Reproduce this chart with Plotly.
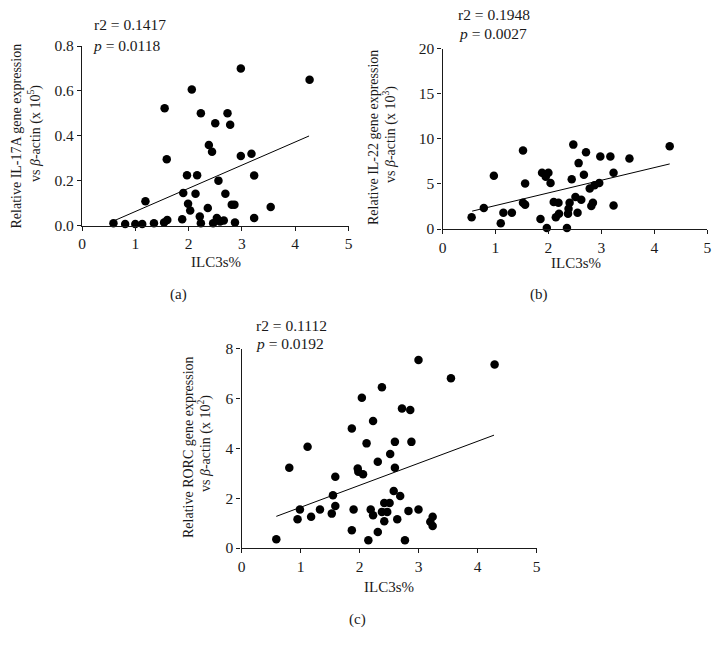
import plotly.graph_objects as go

W, H = 721, 652

# ---------------- data ----------------
# Panel (a): IL-17A
a_x = [0.59, 0.81, 1.00, 1.13, 1.19, 1.35, 1.55, 1.59, 1.54, 1.60, 1.88, 1.90, 1.97, 1.99,
       2.03, 2.06, 2.13, 2.16, 2.21, 2.23, 2.23, 2.36, 2.38, 2.44, 2.46, 2.50, 2.53, 2.56,
       2.59, 2.66, 2.69, 2.73, 2.78, 2.81, 2.86, 2.87, 2.98, 2.98, 3.18, 3.23, 3.23, 3.54, 4.27]
a_y = [0.010, 0.007, 0.007, 0.007, 0.108, 0.010, 0.523, 0.295, 0.013, 0.025, 0.028, 0.145,
       0.224, 0.097, 0.067, 0.606, 0.142, 0.224, 0.040, 0.010, 0.500, 0.078, 0.359, 0.329,
       0.010, 0.456, 0.033, 0.200, 0.018, 0.022, 0.142, 0.500, 0.449, 0.093, 0.093, 0.013,
       0.700, 0.310, 0.320, 0.223, 0.033, 0.082, 0.650]
a_fit_x = [0.60, 4.26]
a_fit_y = [0.021, 0.399]
a_stats = ["r2 = 0.1417", "<i>p</i> = 0.0118"]
a_ytitle = ["Relative IL-17A gene expression", "vs <i>β</i>-actin (x 10<sup>5</sup>)"]

# Panel (b): IL-22
b_x = [0.55, 0.78, 0.97, 1.10, 1.15, 1.31, 1.52, 1.52, 1.56, 1.56, 1.85, 1.88, 1.94, 1.95,
       1.97, 2.00, 2.04, 2.10, 2.14, 2.19, 2.20, 2.35, 2.37, 2.38, 2.40, 2.44, 2.47, 2.51,
       2.55, 2.57, 2.62, 2.67, 2.71, 2.78, 2.81, 2.84, 2.87, 2.96, 2.98, 3.17, 3.23, 3.23,
       3.53, 4.29]
b_y = [1.31, 2.32, 5.90, 0.64, 1.80, 1.80, 8.70, 2.90, 2.70, 5.05, 1.12, 6.24, 6.00, 5.80,
       0.11, 6.24, 5.10, 3.00, 1.31, 2.90, 1.70, 0.11, 1.70, 2.24, 2.90, 5.50, 9.35, 3.55,
       1.80, 7.30, 3.25, 6.00, 8.50, 4.50, 2.55, 2.90, 4.86, 5.10, 8.04, 8.04, 6.24, 2.60,
       7.80, 9.16]
b_fit_x = [0.56, 4.29]
b_fit_y = [1.98, 7.21]
b_stats = ["r2 = 0.1948", "<i>p</i> = 0.0027"]
b_ytitle = ["Relative IL-22 gene expression", "vs <i>β</i>-actin (x 10<sup>3</sup>)"]

# Panel (c): RORC
c_x = [0.59, 0.81, 0.95, 0.99, 1.12, 1.18, 1.33, 1.53, 1.55, 1.59, 1.59, 1.87, 1.87, 1.90,
       1.97, 1.98, 2.04, 2.06, 2.12, 2.15, 2.19, 2.23, 2.23, 2.31, 2.31, 2.38, 2.38, 2.42,
       2.42, 2.47, 2.51, 2.52, 2.58, 2.60, 2.60, 2.64, 2.69, 2.72, 2.77, 2.83, 2.86, 2.88,
       3.00, 3.00, 3.20, 3.24, 3.24, 3.55, 4.29]
c_y = [0.35, 3.22, 1.15, 1.55, 4.06, 1.25, 1.55, 1.38, 2.12, 2.86, 1.69, 4.80, 0.71, 1.55,
       3.19, 3.06, 6.03, 2.96, 4.20, 0.31, 1.55, 5.10, 1.31, 0.64, 3.46, 1.45, 6.45, 1.81,
       1.07, 1.45, 1.81, 3.77, 2.29, 4.26, 3.22, 1.15, 2.09, 5.60, 0.31, 1.49, 5.54, 4.26,
       1.55, 7.55, 1.05, 1.25, 0.88, 6.81, 7.37]
c_fit_x = [0.59, 4.28]
c_fit_y = [1.27, 4.53]
c_stats = ["r2 = 0.1112", "<i>p</i> = 0.0192"]
c_ytitle = ["Relative RORC gene expression", "vs <i>β</i>-actin (x 10<sup>2</sup>)"]

x_ticks = [0, 1, 2, 3, 4, 5]
x_title = "ILC3s%"
labels = ["(a)", "(b)", "(c)"]

# ---------------- layout helpers ----------------
FONT = "Liberation Serif"
INK = "#1a1a1a"

def fx(p):
    return p / W

def fy(p):
    return 1 - p / H

panels = [
    dict(x=a_x, y=a_y, fitx=a_fit_x, fity=a_fit_y, stats=a_stats, yt=a_ytitle,
         xpx=(82, 348.5), ypx=(46, 225.5), yr=[0, 0.8], dt=0.2, fmt=".1f",
         stat_pos=[(91.5, 24), (91, 45)], yt_pos=[(15.5, 136), (34, 134)],
         xt_pos=(216, 262), lab_pos=(178.5, 294), lab=labels[0]),
    dict(x=b_x, y=b_y, fitx=b_fit_x, fity=b_fit_y, stats=b_stats, yt=b_ytitle,
         xpx=(442.5, 707.3), ypx=(48.5, 229), yr=[0, 20], dt=5, fmt="d",
         stat_pos=[(456, 15), (457, 33.5)], yt_pos=[(373, 138), (389, 135)],
         xt_pos=(576, 263), lab_pos=(538.5, 294), lab=labels[1]),
    dict(x=c_x, y=c_y, fitx=c_fit_x, fity=c_fit_y, stats=c_stats, yt=c_ytitle,
         xpx=(241.5, 536.5), ypx=(348.7, 548), yr=[0, 8], dt=2, fmt="d",
         stat_pos=[(254, 325), (254, 343)], yt_pos=[(188, 447), (205, 444)],
         xt_pos=(389, 587), lab_pos=(357, 619.5), lab=labels[2]),
]

fig = go.Figure()
annotations = []

for i, p in enumerate(panels, start=1):
    sfx = "" if i == 1 else str(i)
    xa, ya = "x" + sfx, "y" + sfx
    fig.add_trace(go.Scatter(
        x=p["x"], y=p["y"], mode="markers", xaxis=xa, yaxis=ya,
        marker=dict(color="black", size=8.5, line=dict(width=0)),
        cliponaxis=False, showlegend=False, hoverinfo="x+y"))
    fig.add_trace(go.Scatter(
        x=p["fitx"], y=p["fity"], mode="lines", xaxis=xa, yaxis=ya,
        line=dict(color="black", width=1), showlegend=False, hoverinfo="skip"))

    axis_common = dict(showline=True, linecolor=INK, linewidth=1.2, ticks="outside",
                       ticklen=4, tickcolor=INK, tickwidth=1.2, showgrid=False,
                       zeroline=False, automargin=False,
                       tickfont=dict(family=FONT, size=15.5, color=INK))
    fig.update_layout(**{
        "xaxis" + sfx: dict(axis_common, domain=[fx(p["xpx"][0]), fx(p["xpx"][1])],
                            range=[0, 5], tickvals=x_ticks, anchor=ya),
        "yaxis" + sfx: dict(axis_common, domain=[fy(p["ypx"][1]), fy(p["ypx"][0])],
                            range=p["yr"], dtick=p["dt"], tick0=0,
                            tickformat=p["fmt"], anchor=xa),
    })

    for txt, (px_, py_) in zip(p["stats"], p["stat_pos"]):
        annotations.append(dict(text=txt, x=fx(px_), y=fy(py_), xref="paper", yref="paper",
                                xanchor="left", yanchor="middle", showarrow=False,
                                font=dict(family=FONT, size=15.5, color=INK)))
    for txt, (px_, py_) in zip(p["yt"], p["yt_pos"]):
        annotations.append(dict(text=txt, x=fx(px_), y=fy(py_), xref="paper", yref="paper",
                                xanchor="center", yanchor="middle", textangle=-90,
                                showarrow=False, font=dict(family=FONT, size=14, color=INK)))
    annotations.append(dict(text=x_title, x=fx(p["xt_pos"][0]), y=fy(p["xt_pos"][1]),
                            xref="paper", yref="paper", xanchor="center", yanchor="middle",
                            showarrow=False, font=dict(family=FONT, size=15, color=INK)))
    annotations.append(dict(text=p["lab"], x=fx(p["lab_pos"][0]), y=fy(p["lab_pos"][1]),
                            xref="paper", yref="paper", xanchor="center", yanchor="middle",
                            showarrow=False, font=dict(family=FONT, size=15, color=INK)))

fig.update_layout(width=W, height=H,
                  margin=dict(l=0, r=0, t=0, b=0, pad=0, autoexpand=False),
                  paper_bgcolor="white", plot_bgcolor="white",
                  annotations=annotations, showlegend=False)

fig.write_html("out.html", config={"displayModeBar": False},
               post_script="document.body.style.margin='0';document.body.style.overflow='hidden';")
